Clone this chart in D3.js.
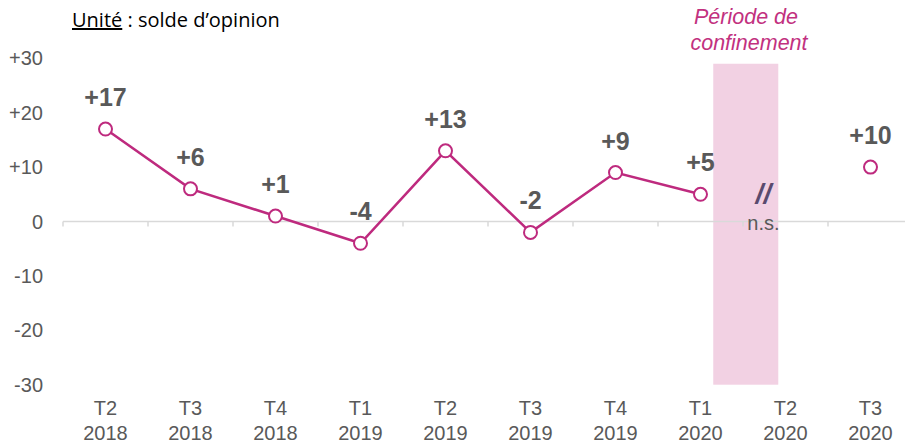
<!DOCTYPE html>
<html>
<head>
<meta charset="utf-8">
<script src="https://cdn.jsdelivr.net/npm/d3@7"></script>
<style>
  body { margin: 0; background: #fff; }
  svg { display: block; }
</style>
</head>
<body>
<svg id="chart" width="905" height="444"></svg>
<script>
"use strict";

// trimestres et années
var quarters = ["T2", "T3", "T4", "T1", "T2", "T3", "T4", "T1", "T2", "T3"];
var years = ["2018", "2018", "2018", "2019", "2019", "2019", "2019", "2020", "2020", "2020"];
// solde d'opinion (null = n.s.)
var values = [17, 6, 1, -4, 13, -2, 9, 5, null, 10];
var yTicks = [-30, -20, -10, 0, 10, 20, 30];
var yTickLabels = ["-30", "-20", "-10", "0", "+10", "+20", "+30"];

var svg = d3.select("#chart");
var magenta = "#BE2A7E";
var grey = "#595959";

var keys = quarters.map(function(q, i) { return q + " " + years[i]; });

var x = d3.scaleBand()
  .domain(keys)
  .range([63, 913])
  .paddingInner(0)
  .paddingOuter(0);

var y = d3.scaleLinear()
  .domain([-30, 30])
  .range([384.7, 58.3]);

var step = x.step();

// période de confinement
var boundary = x(keys[8]);
svg.append("rect")
  .attr("x", boundary - step * 0.35)
  .attr("y", y(29))
  .attr("width", step * 0.765)
  .attr("height", y(-30) - y(29))
  .attr("fill", "#F2D1E3");

// axe horizontal à zéro
svg.append("line")
  .attr("x1", x.range()[0])
  .attr("x2", 905)
  .attr("y1", y(0))
  .attr("y2", y(0))
  .attr("stroke", "#D9D9D9")
  .attr("stroke-width", 1.5);

svg.selectAll(".tick-x")
  .data(keys)
  .enter()
  .append("line")
  .attr("class", "tick-x")
  .attr("x1", function(d) { return x(d); })
  .attr("x2", function(d) { return x(d); })
  .attr("y1", y(0))
  .attr("y2", y(0) + 5)
  .attr("stroke", "#D9D9D9")
  .attr("stroke-width", 1.5);

// étiquettes de l'axe vertical
svg.selectAll(".ylab")
  .data(yTicks)
  .enter()
  .append("text")
  .attr("class", "ylab")
  .attr("x", 43)
  .attr("y", function(d) { return y(d); })
  .attr("dy", "0.35em")
  .attr("text-anchor", "end")
  .style("font-family", "Arial, 'Liberation Sans', sans-serif")
  .style("font-size", "20px")
  .style("fill", grey)
  .text(function(d, i) { return yTickLabels[i]; });

// étiquettes de l'axe horizontal
var xlab = svg.selectAll(".xlab")
  .data(keys)
  .enter()
  .append("text")
  .attr("class", "xlab")
  .attr("text-anchor", "middle")
  .style("font-family", "Arial, 'Liberation Sans', sans-serif")
  .style("font-size", "20px")
  .style("fill", grey);

xlab.append("tspan")
  .attr("x", function(d) { return x(d) + step / 2; })
  .attr("y", 415)
  .text(function(d, i) { return quarters[i]; });

xlab.append("tspan")
  .attr("x", function(d) { return x(d) + step / 2; })
  .attr("y", 440)
  .text(function(d, i) { return years[i]; });

// courbe
var pts = keys.map(function(k, i) { return { key: k, value: values[i], idx: i }; });

var line = d3.line()
  .defined(function(d, i) { return d.value !== null && i < 8; })
  .x(function(d) { return x(d.key) + step / 2; })
  .y(function(d) { return y(d.value); });

svg.append("path")
  .datum(pts)
  .attr("d", line)
  .attr("fill", "none")
  .attr("stroke", magenta)
  .attr("stroke-width", 2.5);

var valid = pts.filter(function(d) { return d.value !== null; });

svg.selectAll(".pt")
  .data(valid)
  .enter()
  .append("circle")
  .attr("class", "pt")
  .attr("cx", function(d) { return x(d.key) + step / 2; })
  .attr("cy", function(d) { return y(d.value); })
  .attr("r", 6.5)
  .attr("fill", "#fff")
  .attr("stroke", magenta)
  .attr("stroke-width", 2);

svg.selectAll(".vlab")
  .data(valid)
  .enter()
  .append("text")
  .attr("class", "vlab")
  .attr("x", function(d) { return x(d.key) + step / 2; })
  .attr("y", function(d) { return y(d.value) - 23; })
  .attr("text-anchor", "middle")
  .style("font-family", "Arial, 'Liberation Sans', sans-serif")
  .style("font-size", "25px")
  .style("font-weight", "bold")
  .style("fill", grey)
  .text(function(d) { return d.value > 0 ? "+" + d.value : String(d.value); });

// n.s. pour T2 2020
var nsX = x(keys[8]) + step * 0.24;
svg.append("text")
  .attr("x", nsX)
  .attr("y", 203)
  .attr("text-anchor", "middle")
  .style("font-family", "Arial, 'Liberation Sans', sans-serif")
  .style("font-size", "28px")
  .style("font-weight", "bold")
  .style("font-style", "italic")
  .style("fill", "#5A4A6E")
  .text("//");

svg.append("text")
  .attr("x", nsX)
  .attr("y", 230)
  .attr("text-anchor", "middle")
  .style("font-family", "Arial, 'Liberation Sans', sans-serif")
  .style("font-size", "20px")
  .style("fill", grey)
  .text("n.s.");

// titre de la période
var conf = svg.append("text")
  .attr("text-anchor", "middle")
  .style("font-family", "Arial, 'Liberation Sans', sans-serif")
  .style("font-size", "21.5px")
  .style("font-style", "italic")
  .style("fill", "#C2317F");
conf.append("tspan").attr("x", 746).attr("y", 24).text("Période de");
conf.append("tspan").attr("x", 749).attr("y", 50).text("confinement");

// unité
var unit = svg.append("text")
  .attr("x", 72)
  .attr("y", 27)
  .style("font-family", "'Open Sans', 'Noto Sans', sans-serif")
  .style("font-size", "20px")
  .style("fill", "#000");
unit.append("tspan").style("text-decoration", "underline").text("Unité");
unit.append("tspan").text(" : solde d’opinion");
</script>
</body>
</html>
